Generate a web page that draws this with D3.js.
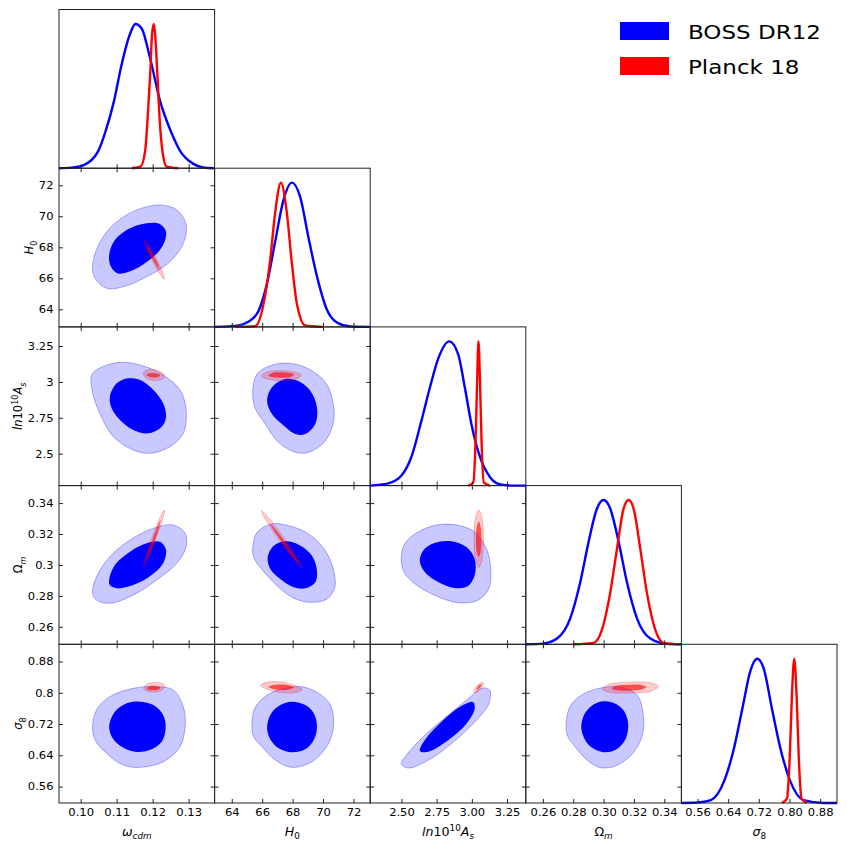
<!DOCTYPE html>
<html>
<head>
  <style>
  body {
    margin: 0;
    background: #fff;
  }
  svg text {
    font-family: "DejaVu Sans", sans-serif;
  }
  </style>
</head>
<body>
  <script src="https://cdn.jsdelivr.net/npm/d3@7"></script>
  <script>
  // parameter order: omega_cdm, H0, ln10^10 A_s, Omega_m, sigma_8
  var params = ["wcdm", "H0", "lnAs", "Om", "s8"];
  var paramMin = [0.09397, 62.87, 2.278, 0.2487, 0.518];
  var paramMax = [0.1372, 73.1, 3.383, 0.3513, 0.924];

  var tickValues = [
    [0.10, 0.11, 0.12, 0.13],
    [64, 66, 68, 70, 72],
    [2.5, 2.75, 3, 3.25],
    [0.26, 0.28, 0.30, 0.32, 0.34],
    [0.56, 0.64, 0.72, 0.80, 0.88]
  ];
  var xTickLabels = [
    ["0.10", "0.11", "0.12", "0.13"],
    ["64", "66", "68", "70", "72"],
    ["2.50", "2.75", "3.00", "3.25"],
    ["0.26", "0.28", "0.30", "0.32", "0.34"],
    ["0.56", "0.64", "0.72", "0.80", "0.88"]
  ];
  var yTickLabels = [
    [],
    ["64", "66", "68", "70", "72"],
    ["2.5", "2.75", "3", "3.25"],
    ["0.26", "0.28", "0.3", "0.32", "0.34"],
    ["0.56", "0.64", "0.72", "0.8", "0.88"]
  ];

  var seriesNames = ["BOSS DR12", "Planck 18"];
  var seriesColors = ["#0000ff", "#ff0000"];

  // 1D marginals, peak normalised to 1
  var bossPdfWcdm = [[0.0940,0],[0.0975,0.004],[0.1007,0.02],[0.1049,0.12],[0.1067,0.24],[0.1093,0.47],[0.1112,0.70],[0.1137,0.93],[0.1152,1.0],[0.1169,0.97],[0.1193,0.76],[0.1220,0.47],[0.1253,0.24],[0.1276,0.12],[0.1313,0.03],[0.1340,0.005],[0.1370,0]];
  var planckPdfWcdm = [[0.1142,0],[0.1166,0.01],[0.1179,0.12],[0.1186,0.35],[0.1193,0.65],[0.1198,0.92],[0.1203,1.0],[0.1207,0.92],[0.1213,0.65],[0.1219,0.35],[0.1227,0.12],[0.1239,0.01],[0.1271,0]];
  var bossPdfH0 = [[62.87,0],[64.0,0.005],[64.77,0.02],[65.65,0.09],[66.31,0.30],[66.85,0.59],[67.40,0.88],[67.95,1.0],[68.50,0.90],[69.04,0.62],[69.60,0.35],[70.25,0.12],[70.91,0.03],[71.79,0.003],[73.1,0]];
  var planckPdfH0 = [[64.22,0],[65.54,0.005],[66.09,0.16],[66.52,0.46],[66.85,0.79],[67.23,1.0],[67.62,0.79],[67.95,0.44],[68.28,0.16],[68.83,0.01],[70.03,0]];
  var bossPdfLnAs = [[2.278,0],[2.406,0.015],[2.500,0.07],[2.571,0.20],[2.642,0.45],[2.702,0.68],[2.761,0.88],[2.839,1.0],[2.903,0.91],[2.950,0.68],[2.998,0.42],[3.057,0.20],[3.128,0.06],[3.196,0.01],[3.291,0],[3.383,0]];
  var planckPdfLnAs = [[2.974,0],[3.010,0.02],[3.026,0.3],[3.038,0.75],[3.047,1.0],[3.057,0.75],[3.069,0.3],[3.085,0.02],[3.128,0]];
  var bossPdfOm = [[0.2487,0],[0.2600,0.005],[0.2693,0.04],[0.2780,0.18],[0.2846,0.43],[0.2901,0.71],[0.2956,0.94],[0.3000,1.0],[0.3044,0.94],[0.3099,0.71],[0.3154,0.43],[0.3220,0.18],[0.3308,0.04],[0.3418,0.003],[0.3513,0]];
  var planckPdfOm = [[0.2802,0],[0.2934,0.01],[0.2989,0.10],[0.3044,0.36],[0.3088,0.66],[0.3132,0.94],[0.3165,1.0],[0.3198,0.94],[0.3242,0.66],[0.3285,0.36],[0.3341,0.10],[0.3396,0.01],[0.3506,0]];
  var bossPdfS8 = [[0.518,0],[0.5600,0.003],[0.5947,0.02],[0.6292,0.15],[0.6552,0.38],[0.6767,0.65],[0.6984,0.92],[0.7156,1.0],[0.7330,0.93],[0.7545,0.65],[0.7762,0.38],[0.8022,0.15],[0.8367,0.02],[0.8886,0],[0.924,0]];
  var planckPdfS8 = [[0.7804,0],[0.7933,0.03],[0.8004,0.3],[0.8064,0.75],[0.8125,1.0],[0.8185,0.75],[0.8245,0.3],[0.8315,0.03],[0.8452,0]];

  // 2D contours (x = column param, y = row param), 95% and 68%
  var boss95_H0_wcdm = [[0.1033,66.86],[0.1054,68.36],[0.1095,69.55],[0.1156,70.41],[0.1220,70.73],[0.1267,70.41],[0.1293,69.44],[0.1283,68.15],[0.1243,66.97],[0.1183,66.10],[0.1118,65.46],[0.1072,65.36],[0.1040,66.0]];
  var boss68_H0_wcdm = [[0.1079,67.50],[0.1095,68.47],[0.1137,69.23],[0.1183,69.55],[0.1220,69.50],[0.1237,69.0],[0.1229,68.15],[0.1197,67.29],[0.1146,66.54],[0.1104,66.32],[0.1084,66.75]];
  var planck95_H0_wcdm = [[0.1174,68.58],[0.1186,68.24],[0.1209,67.32],[0.1228,66.37],[0.1232,65.94],[0.1220,66.28],[0.1198,67.19],[0.1179,68.15]];
  var planck68_H0_wcdm = [[0.1184,68.15],[0.1191,67.93],[0.1204,67.38],[0.1216,66.81],[0.1218,66.54],[0.1212,66.76],[0.1198,67.31],[0.1187,67.88]];

  var boss95_lnAs_wcdm = [[0.1033,3.060],[0.1100,3.134],[0.1165,3.118],[0.1229,3.048],[0.1276,2.944],[0.1293,2.804],[0.1285,2.642],[0.1248,2.549],[0.1192,2.503],[0.1146,2.526],[0.1091,2.618],[0.1049,2.804],[0.1030,2.967]];
  var boss68_lnAs_wcdm = [[0.1081,2.897],[0.1100,2.990],[0.1132,3.025],[0.1165,3.013],[0.1202,2.944],[0.1229,2.851],[0.1237,2.758],[0.1225,2.688],[0.1188,2.642],[0.1146,2.665],[0.1109,2.735],[0.1086,2.816]];
  var planck95_lnAs_wcdm = [[0.1174,3.062],[0.1183,3.083],[0.1204,3.085],[0.1224,3.069],[0.1233,3.041],[0.1224,3.017],[0.1204,3.011],[0.1183,3.024]];
  var planck68_lnAs_wcdm = [[0.1183,3.046],[0.1189,3.058],[0.1202,3.062],[0.1215,3.055],[0.1221,3.046],[0.1215,3.034],[0.1202,3.030],[0.1189,3.037]];

  var boss95_Om_wcdm = [[0.1033,0.2817],[0.1044,0.2924],[0.1081,0.3053],[0.1137,0.3161],[0.1202,0.3237],[0.1257,0.3258],[0.1290,0.3205],[0.1293,0.3118],[0.1267,0.3011],[0.1211,0.2903],[0.1146,0.2806],[0.1081,0.2752],[0.1044,0.2773]];
  var boss68_Om_wcdm = [[0.1079,0.2903],[0.1095,0.3000],[0.1137,0.3086],[0.1183,0.3140],[0.1220,0.3150],[0.1237,0.3097],[0.1229,0.3011],[0.1197,0.2935],[0.1146,0.2870],[0.1100,0.2849],[0.1081,0.2870]];
  var planck95_Om_wcdm = [[0.1174,0.2985],[0.1186,0.3036],[0.1208,0.3166],[0.1228,0.3298],[0.1232,0.3355],[0.1220,0.3304],[0.1198,0.3174],[0.1179,0.3042]];
  var planck68_Om_wcdm = [[0.1180,0.3021],[0.1188,0.3058],[0.1205,0.3153],[0.1218,0.3249],[0.1222,0.3291],[0.1214,0.3252],[0.1199,0.3158],[0.1185,0.3062]];

  var boss95_s8_wcdm = [[0.1033,0.7132],[0.1044,0.7559],[0.1081,0.7899],[0.1146,0.8114],[0.1202,0.8155],[0.1257,0.8071],[0.1285,0.7644],[0.1290,0.7132],[0.1276,0.6620],[0.1230,0.6237],[0.1165,0.6093],[0.1118,0.6152],[0.1072,0.6452],[0.1040,0.6792]];
  var boss68_s8_wcdm = [[0.1079,0.7132],[0.1095,0.7516],[0.1128,0.7731],[0.1165,0.7772],[0.1202,0.7687],[0.1229,0.7431],[0.1236,0.7091],[0.1225,0.6748],[0.1192,0.6536],[0.1151,0.6492],[0.1114,0.6620],[0.1089,0.6835]];
  var planck95_s8_wcdm = [[0.1175,0.8109],[0.1183,0.8212],[0.1205,0.8260],[0.1226,0.8237],[0.1234,0.8173],[0.1226,0.8071],[0.1205,0.8020],[0.1183,0.8045]];
  var planck68_s8_wcdm = [[0.1183,0.8109],[0.1189,0.8160],[0.1202,0.8181],[0.1215,0.8160],[0.1221,0.8130],[0.1215,0.8076],[0.1202,0.8063],[0.1189,0.8079]];

  var boss95_lnAs_H0 = [[65.38,2.939],[65.66,3.055],[66.53,3.113],[67.74,3.130],[69.06,3.090],[70.15,2.997],[70.63,2.869],[70.70,2.730],[70.15,2.590],[69.06,2.510],[68.18,2.510],[67.08,2.579],[66.20,2.707],[65.51,2.823]];
  var boss68_lnAs_H0 = [[66.32,2.869],[66.64,2.962],[67.52,3.020],[68.40,3.004],[69.16,2.939],[69.60,2.823],[69.49,2.707],[68.83,2.637],[68.18,2.637],[67.30,2.707],[66.64,2.777]];
  var planck95_lnAs_H0 = [[65.94,3.039],[66.31,3.069],[67.26,3.078],[68.20,3.067],[68.57,3.048],[68.20,3.018],[67.26,3.008],[66.31,3.020]];
  var planck68_lnAs_H0 = [[66.42,3.045],[66.66,3.062],[67.26,3.067],[67.85,3.062],[68.09,3.052],[67.85,3.034],[67.26,3.029],[66.66,3.034]];

  var boss95_Om_H0 = [[65.38,0.3114],[65.66,0.3211],[66.64,0.3265],[67.74,0.3254],[69.06,0.3200],[70.15,0.3092],[70.70,0.2963],[70.77,0.2856],[70.26,0.2780],[69.06,0.2759],[67.96,0.2791],[66.86,0.2877],[65.87,0.2985],[65.44,0.3049]];
  var boss68_Om_H0 = [[66.36,0.3049],[66.76,0.3124],[67.52,0.3153],[68.40,0.3131],[69.27,0.3060],[69.60,0.2963],[69.49,0.2888],[68.83,0.2849],[68.07,0.2856],[67.19,0.2909],[66.53,0.2974]];
  var planck95_Om_H0 = [[65.94,0.3351],[66.43,0.3304],[67.41,0.3177],[68.32,0.3045],[68.62,0.2985],[68.13,0.3031],[67.14,0.3158],[66.24,0.3291]];
  var planck68_Om_H0 = [[66.53,0.3265],[66.86,0.3230],[67.55,0.3140],[68.20,0.3047],[68.44,0.3006],[68.11,0.3040],[67.42,0.3131],[66.77,0.3224]];

  var boss95_s8_H0 = [[65.33,0.7176],[65.51,0.7603],[66.32,0.7943],[67.52,0.8114],[68.62,0.8155],[69.71,0.7986],[70.48,0.7687],[70.70,0.7219],[70.37,0.6707],[69.27,0.6237],[67.96,0.6093],[66.86,0.6280],[65.99,0.6620],[65.44,0.6876]];
  var boss68_s8_H0 = [[66.32,0.7132],[66.60,0.7475],[67.19,0.7687],[67.96,0.7772],[68.83,0.7687],[69.39,0.7475],[69.60,0.7132],[69.39,0.6792],[68.83,0.6554],[67.96,0.6477],[67.08,0.6579],[66.53,0.6810]];
  var planck95_s8_H0 = [[65.89,0.8186],[66.28,0.8266],[67.26,0.8276],[68.22,0.8173],[68.62,0.8084],[68.22,0.8007],[67.26,0.8004],[66.28,0.8097]];
  var planck68_s8_H0 = [[66.42,0.8148],[66.66,0.8191],[67.26,0.8209],[67.85,0.8186],[68.09,0.8140],[67.85,0.8089],[67.26,0.8071],[66.66,0.8104]];

  var boss95_Om_lnAs = [[2.499,0.3040],[2.523,0.3137],[2.617,0.3213],[2.760,0.3260],[2.902,0.3256],[3.020,0.3213],[3.103,0.3105],[3.134,0.2976],[3.120,0.2846],[3.044,0.2772],[2.902,0.2756],[2.736,0.2804],[2.594,0.2879],[2.518,0.2954]];
  var boss68_Om_lnAs = [[2.630,0.3030],[2.665,0.3105],[2.760,0.3148],[2.854,0.3153],[2.961,0.3116],[3.020,0.3040],[3.020,0.2933],[2.973,0.2864],[2.878,0.2851],[2.760,0.2890],[2.665,0.2954]];
  var planck95_Om_lnAs = [[3.049,0.3355],[3.072,0.3301],[3.082,0.3170],[3.072,0.3038],[3.049,0.2984],[3.025,0.3038],[3.015,0.3170],[3.025,0.3301]];
  var planck68_Om_lnAs = [[3.049,0.3281],[3.062,0.3247],[3.068,0.3166],[3.062,0.3084],[3.049,0.3051],[3.035,0.3084],[3.029,0.3166],[3.035,0.3247]];

  var boss95_s8_lnAs = [[2.499,0.6186],[2.534,0.6400],[2.665,0.6912],[2.831,0.7424],[2.973,0.7848],[3.079,0.8122],[3.127,0.8063],[3.120,0.7720],[3.020,0.7252],[2.854,0.6697],[2.689,0.6272],[2.546,0.6075]];
  var boss68_s8_lnAs = [[2.630,0.6528],[2.665,0.6784],[2.783,0.7252],[2.925,0.7662],[3.008,0.7764],[3.020,0.7593],[2.961,0.7209],[2.831,0.6784],[2.701,0.6503],[2.641,0.6485]];
  var planck95_s8_lnAs = [[3.015,0.8002],[3.034,0.8012],[3.059,0.8091],[3.078,0.8191],[3.079,0.8258],[3.061,0.8247],[3.035,0.8168],[3.017,0.8068]];
  var planck68_s8_lnAs = [[3.034,0.8081],[3.043,0.8086],[3.057,0.8127],[3.067,0.8180],[3.067,0.8214],[3.058,0.8209],[3.044,0.8168],[3.035,0.8115]];

  var boss95_s8_Om = [[0.2754,0.7252],[0.2783,0.7680],[0.2871,0.7976],[0.2981,0.8122],[0.3113,0.8148],[0.3222,0.7935],[0.3262,0.7424],[0.3255,0.6912],[0.3200,0.6485],[0.3090,0.6145],[0.2981,0.6083],[0.2893,0.6272],[0.2805,0.6656],[0.2761,0.6912]];
  var boss68_s8_Om = [[0.2853,0.7168],[0.2882,0.7508],[0.2958,0.7746],[0.3047,0.7764],[0.3123,0.7593],[0.3161,0.7252],[0.3146,0.6825],[0.3080,0.6544],[0.2991,0.6485],[0.2904,0.6656],[0.2864,0.6912]];
  var planck95_s8_Om = [[0.2991,0.8097],[0.3044,0.8225],[0.3174,0.8265],[0.3306,0.8260],[0.3359,0.8160],[0.3306,0.8033],[0.3174,0.7994],[0.3044,0.8007]];
  var planck68_s8_Om = [[0.3053,0.8109],[0.3086,0.8181],[0.3167,0.8206],[0.3249,0.8199],[0.3282,0.8148],[0.3249,0.8084],[0.3167,0.8053],[0.3086,0.8063]];

  var bossPdfs = [bossPdfWcdm, bossPdfH0, bossPdfLnAs, bossPdfOm, bossPdfS8];
  var planckPdfs = [planckPdfWcdm, planckPdfH0, planckPdfLnAs, planckPdfOm, planckPdfS8];

  var panels = [
    {r: 1, c: 0, boss: [boss95_H0_wcdm, boss68_H0_wcdm], planck: [planck95_H0_wcdm, planck68_H0_wcdm]},
    {r: 2, c: 0, boss: [boss95_lnAs_wcdm, boss68_lnAs_wcdm], planck: [planck95_lnAs_wcdm, planck68_lnAs_wcdm]},
    {r: 3, c: 0, boss: [boss95_Om_wcdm, boss68_Om_wcdm], planck: [planck95_Om_wcdm, planck68_Om_wcdm]},
    {r: 4, c: 0, boss: [boss95_s8_wcdm, boss68_s8_wcdm], planck: [planck95_s8_wcdm, planck68_s8_wcdm]},
    {r: 2, c: 1, boss: [boss95_lnAs_H0, boss68_lnAs_H0], planck: [planck95_lnAs_H0, planck68_lnAs_H0]},
    {r: 3, c: 1, boss: [boss95_Om_H0, boss68_Om_H0], planck: [planck95_Om_H0, planck68_Om_H0]},
    {r: 4, c: 1, boss: [boss95_s8_H0, boss68_s8_H0], planck: [planck95_s8_H0, planck68_s8_H0]},
    {r: 3, c: 2, boss: [boss95_Om_lnAs, boss68_Om_lnAs], planck: [planck95_Om_lnAs, planck68_Om_lnAs]},
    {r: 4, c: 2, boss: [boss95_s8_lnAs, boss68_s8_lnAs], planck: [planck95_s8_lnAs, planck68_s8_lnAs]},
    {r: 4, c: 3, boss: [boss95_s8_Om, boss68_s8_Om], planck: [planck95_s8_Om, planck68_s8_Om]}
  ];

  var axisLabels = [
    [{t: "ω", it: 1}, {t: "cdm", it: 1, sub: 1}],
    [{t: "H", it: 1}, {t: "0", sub: 1}],
    [{t: "ln", it: 1}, {t: "10"}, {t: "10", sup: 1}, {t: "A", it: 1}, {t: "s", it: 1, sub: 1}],
    [{t: "Ω"}, {t: "m", it: 1, sub: 1}],
    [{t: "σ", it: 1}, {t: "8", sub: 1}]
  ];

  var margin = {left: 59, top: 9.5};
  var cw = 155.6, ch = 158.7;
  var n = params.length;
  var tickLen = 4;
  var frameColor = "#222";
  var stretch = "scale(1.1,1)";   // the picture is slightly wider than tall

  var svg = d3.select("body").append("svg")
      .attr("width", 847)
      .attr("height", 848);

  function mathText(sel, parts, fs) {
    var shift = 0;
    parts.forEach(function(p) {
      var target = p.sub ? fs * 0.28 : p.sup ? -fs * 0.42 : 0;
      var t = sel.append("tspan").text(p.t).attr("dy", target - shift);
      if (p.it) t.style("font-style", "italic");
      if (p.sub || p.sup) t.attr("font-size", fs * 0.7);
      shift = target;
    });
  }

  function styleAxis(g) {
    g.select(".domain").remove();
    g.attr("color", frameColor)
      .attr("font-family", "DejaVu Sans, sans-serif")
      .attr("font-size", 10.5);
    g.selectAll("text").attr("transform", stretch).attr("fill", "#000");
  }

  var contourLine = d3.line().curve(d3.curveCatmullRomClosed.alpha(0.5));

  for (var r = 0; r < n; r++) {
    for (var c = 0; c <= r; c++) {
      var g = svg.append("g")
          .attr("transform", "translate(" + (margin.left + c * cw) + "," + (margin.top + r * ch) + ")");

      var x = d3.scaleLinear().domain([paramMin[c], paramMax[c]]).range([0, cw]);
      var y;

      var clipId = "clip-" + r + "-" + c;
      g.append("clipPath").attr("id", clipId)
        .append("rect").attr("width", cw).attr("height", ch);

      if (r === c) {
        y = d3.scaleLinear().domain([0, 1.1]).range([ch, 0]);
        var pdfLine = d3.line()
            .x(function(d) { return x(d[0]); })
            .y(function(d) { return y(d[1]); })
            .curve(d3.curveMonotoneX);
        [bossPdfs[c], planckPdfs[c]].forEach(function(pdf, i) {
          g.append("path")
              .datum(pdf)
              .attr("d", pdfLine)
              .attr("fill", "none")
              .attr("stroke", seriesColors[i])
              .attr("stroke-width", 2.4)
              .attr("stroke-linejoin", "round");
        });
      } else {
        y = d3.scaleLinear().domain([paramMin[r], paramMax[r]]).range([ch, 0]);
        var panel = panels.filter(function(p) { return p.r === r && p.c === c; })[0];
        var cg = g.append("g").attr("clip-path", "url(#" + clipId + ")");
        var toPx = function(pts) { return contourLine(pts.map(function(d) { return [x(d[0]), y(d[1])]; })); };

        cg.append("path").attr("d", toPx(panel.boss[0]))
            .attr("fill", "#0000ff").attr("fill-opacity", 0.21)
            .attr("stroke", "#0000ff").attr("stroke-opacity", 0.4).attr("stroke-width", 0.8);
        cg.append("path").attr("d", toPx(panel.boss[1]))
            .attr("fill", "#0000ff");
        cg.append("path").attr("d", toPx(panel.planck[0]))
            .attr("fill", "#ff0000").attr("fill-opacity", 0.2)
            .attr("stroke", "#ff0000").attr("stroke-opacity", 0.3).attr("stroke-width", 0.8);
        cg.append("path").attr("d", toPx(panel.planck[1]))
            .attr("fill", "#ff0000").attr("fill-opacity", 0.62);
      }

      // ticks (inward)
      var bottomLabels = (r === n - 1) ? xTickLabels[c] : null;
      g.append("g")
          .attr("transform", "translate(0," + ch + ")")
          .call(d3.axisBottom(x).tickValues(tickValues[c]).tickSizeInner(-tickLen).tickSizeOuter(0).tickPadding(6)
            .tickFormat(function(d, i) { return bottomLabels ? bottomLabels[i] : ""; }))
          .call(styleAxis);

      if (r !== c) {
        g.append("g")
            .call(d3.axisTop(x).tickValues(tickValues[c]).tickSizeInner(-tickLen).tickSizeOuter(0).tickFormat(""))
            .call(styleAxis);
        g.append("g")
            .attr("transform", "translate(" + cw + ",0)")
            .call(d3.axisRight(y).tickValues(tickValues[r]).tickSizeInner(-tickLen).tickSizeOuter(0).tickFormat(""))
            .call(styleAxis);
        var leftLabels = (c === 0) ? yTickLabels[r] : null;
        var la = g.append("g")
            .call(d3.axisLeft(y).tickValues(tickValues[r]).tickSizeInner(-tickLen).tickSizeOuter(0).tickPadding(5)
              .tickFormat(function(d, i) { return leftLabels ? leftLabels[i] : ""; }))
            .call(styleAxis);

        if (c === 0) {
          var bb = la.node().getBBox();
          var lx = margin.left + bb.x - 5.5;
          var ly = margin.top + r * ch + ch / 2;
          var yl = svg.append("text")
              .attr("transform", "translate(" + lx + "," + ly + ") rotate(-90)")
              .attr("text-anchor", "middle")
              .attr("font-size", 11.5)
              .attr("fill", "#000");
          mathText(yl, axisLabels[r], 11.5);
        }
      }

      // frame
      g.append("rect")
          .attr("width", cw)
          .attr("height", ch)
          .attr("fill", "none")
          .attr("stroke", frameColor)
          .attr("stroke-width", 1);
    }
  }

  // x axis labels
  for (var k = 0; k < n; k++) {
    var xl = svg.append("text")
        .attr("transform", "translate(" + (margin.left + k * cw + cw / 2) + ",836) " + stretch)
        .attr("text-anchor", "middle")
        .attr("font-size", 11.5)
        .attr("fill", "#000");
    mathText(xl, axisLabels[k], 11.5);
  }

  // legend
  var legend = svg.append("g").attr("transform", "translate(620,22)");
  seriesNames.forEach(function(name, i) {
    legend.append("rect")
        .attr("x", 0)
        .attr("y", i * 35)
        .attr("width", 49)
        .attr("height", 18)
        .attr("fill", seriesColors[i]);
    legend.append("text")
        .attr("transform", "translate(68," + (i * 35 + 17) + ") scale(1.15,1)")
        .attr("font-size", 20)
        .attr("fill", "#000")
        .text(name);
  });
  </script>
</body>
</html>
